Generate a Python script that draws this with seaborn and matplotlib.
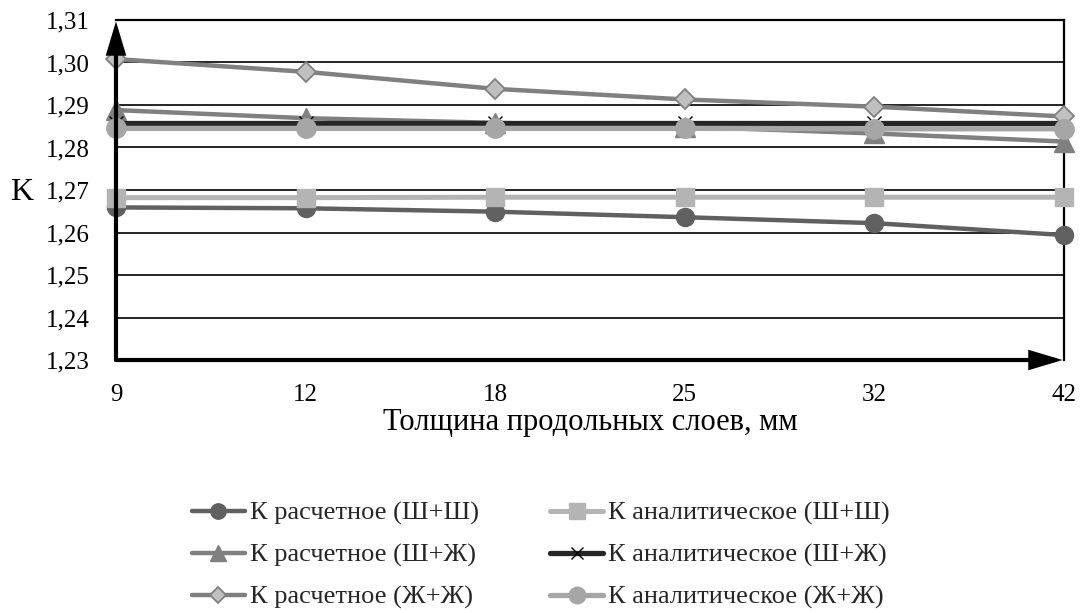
import pandas as pd
import matplotlib
matplotlib.use("Agg")
import matplotlib.pyplot as plt
import matplotlib.ticker as mticker
import seaborn as sns

# thickness of longitudinal layers, mm (categorical axis)
thickness = ["9", "12", "18", "25", "32", "42"]

k_calc_ss = [1.2659, 1.2657, 1.2649, 1.2636, 1.2622, 1.2594]
k_anal_ss = [1.2682, 1.2682, 1.2683, 1.2683, 1.2683, 1.2683]
k_calc_sz = [1.2888, 1.2869, 1.2858, 1.2849, 1.2833, 1.2814]
k_anal_sz = [1.2857, 1.2857, 1.2857, 1.2857, 1.2857, 1.2857]
k_calc_zz = [1.3008, 1.2978, 1.2938, 1.2913, 1.2896, 1.2873]
k_anal_zz = [1.2845, 1.2845, 1.2845, 1.2845, 1.2844, 1.2844]

labels = [
    "К расчетное (Ш+Ш)",
    "К аналитическое (Ш+Ш)",
    "К расчетное (Ш+Ж)",
    "К аналитическое (Ш+Ж)",
    "К расчетное (Ж+Ж)",
    "К аналитическое (Ж+Ж)",
]
values = [k_calc_ss, k_anal_ss, k_calc_sz, k_anal_sz, k_calc_zz, k_anal_zz]

# line / marker styles per series (same order as labels)
styles = [
    dict(color="#606060", lw=3.2, marker="o", ms=13, mfc="#606060", mec="#606060", mew=1),
    dict(color="#b4b4b4", lw=3.6, marker="s", ms=13, mfc="#b4b4b4", mec="#b4b4b4", mew=1),
    dict(color="#808080", lw=3.2, marker="^", ms=14, mfc="#808080", mec="#808080", mew=1),
    dict(color="#262626", lw=3.8, marker="x", ms=10, mfc="#000000", mec="#000000", mew=1),
    dict(color="#808080", lw=3.2, marker="D", ms=10, mfc="#c0c0c0", mec="#808080", mew=1.3),
    dict(color="#a6a6a6", lw=3.8, marker="o", ms=14, mfc="#a6a6a6", mec="#a6a6a6", mew=1),
]

sns.set_theme(style="white")
plt.rcParams["font.family"] = ["Liberation Serif", "DejaVu Serif"]

fig = plt.figure(figsize=(10.85, 6.13), dpi=100)
ax = fig.add_axes([0.1069, 0.4127, 0.9806 - 0.1069, 0.9674 - 0.4127])

# horizontal grid
for v in [1.24, 1.25, 1.26, 1.27, 1.28, 1.29, 1.30]:
    ax.axhline(v, color="black", lw=1.2, zorder=1)

handles = {}
for lab, vals, st in zip(labels, values, styles):
    df = pd.DataFrame({"Толщина": thickness, "K": vals})
    sns.lineplot(data=df, x="Толщина", y="K", ax=ax, sort=False,
                 color=st["color"], linewidth=st["lw"], marker=st["marker"],
                 markersize=st["ms"], markerfacecolor=st["mfc"],
                 markeredgecolor=st["mec"], markeredgewidth=st["mew"],
                 clip_on=False, zorder=3)
    handles[lab] = ax.lines[-1]

ax.set_xlim(0, len(thickness) - 1)
ax.set_ylim(1.23, 1.31)
ax.yaxis.set_major_locator(mticker.MultipleLocator(0.01))
ax.yaxis.set_major_formatter(mticker.FuncFormatter(lambda v, p: f"{v:.2f}".replace(".", ",")))
ax.tick_params(axis="both", length=0, labelsize=18, colors="black")
ax.tick_params(axis="y", pad=19)
ax.tick_params(axis="x", pad=17)

ax.set_xlabel("Толщина продольных слоев, мм", fontsize=22, color="black", labelpad=2)
ax.set_ylabel("K", fontsize=23, color="black", rotation=0, va="center", ha="center")
ax.yaxis.set_label_coords(-0.099, 0.494)

for side in ["top", "right"]:
    ax.spines[side].set_color("black")
    ax.spines[side].set_linewidth(1.6)
for side in ["left", "bottom"]:
    ax.spines[side].set_visible(False)

# axis arrows
arrow = dict(arrowstyle="-|>,head_length=1.0,head_width=0.3", color="black",
             lw=3, shrinkA=0, shrinkB=1, mutation_scale=18, joinstyle="miter")
ax.annotate("", xy=(0, 1), xytext=(0, 0), xycoords="axes fraction",
            arrowprops=arrow, zorder=5, annotation_clip=False)
ax.annotate("", xy=(1, 0), xytext=(0, 0), xycoords="axes fraction",
            arrowprops=arrow, zorder=5, annotation_clip=False)

legend_order = [labels[0], labels[2], labels[4], labels[1], labels[3], labels[5]]
fig.legend([handles[l] for l in legend_order], legend_order, ncol=2,
           loc="center", bbox_to_anchor=(0.4986, 0.094), frameon=False,
           fontsize=19, handlelength=2.0, handletextpad=0.2,
           columnspacing=2.7, labelspacing=0.68, markerscale=0.85)

fig.savefig("out.png", dpi=100)
